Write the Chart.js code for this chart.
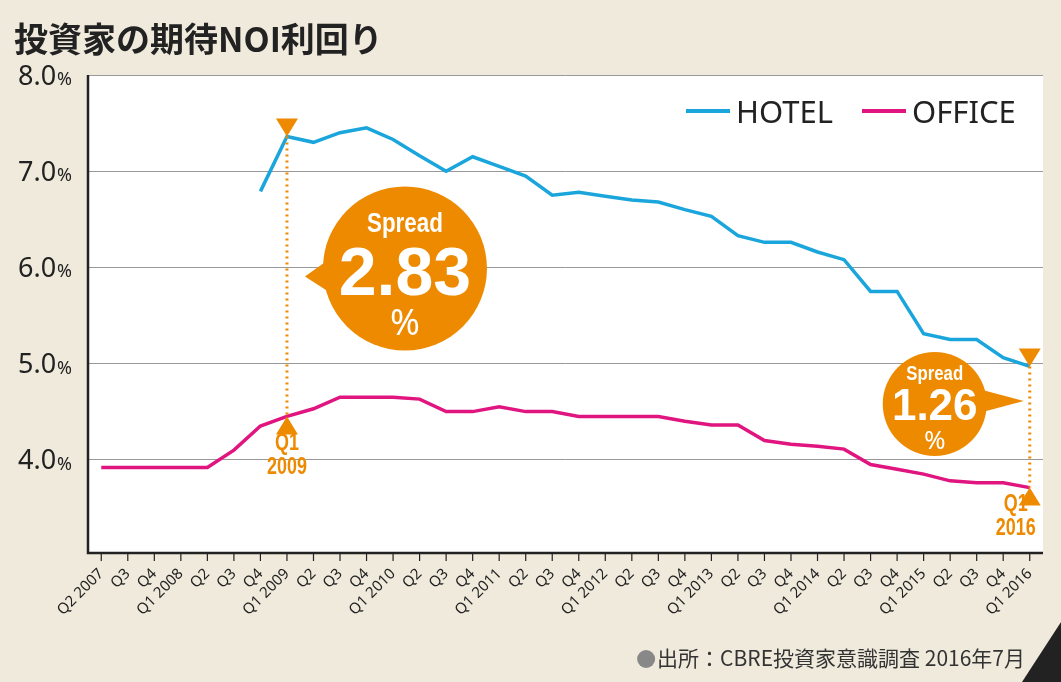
<!DOCTYPE html>
<html><head><meta charset="utf-8">
<script src="https://cdn.jsdelivr.net/npm/chart.js@4"></script>
<style>
html,body{margin:0;padding:0;background:#efeadc;}
#wrap{position:relative;width:1061px;height:682px;overflow:hidden;}
canvas{position:absolute;left:0;top:0;}
</style></head>
<body><div id="wrap"><canvas id="c" width="1061" height="682"></canvas></div>
<script>
// Datos
const categorias = ['Q2 2007','Q3','Q4','Q1 2008','Q2','Q3','Q4','Q1 2009','Q2','Q3','Q4','Q1 2010','Q2','Q3','Q4','Q1 2011','Q2','Q3','Q4','Q1 2012','Q2','Q3','Q4','Q1 2013','Q2','Q3','Q4','Q1 2014','Q2','Q3','Q4','Q1 2015','Q2','Q3','Q4','Q1 2016'];
const hotel = [null,null,null,null,null,null,6.79,7.36,7.30,7.40,7.45,7.33,7.16,7.00,7.15,7.05,6.95,6.75,6.78,6.74,6.70,6.68,6.60,6.53,6.33,6.26,6.26,6.16,6.08,5.75,5.75,5.31,5.25,5.25,5.06,4.97];
const office = [3.92,3.92,3.92,3.92,3.92,4.10,4.35,4.45,4.53,4.65,4.65,4.65,4.63,4.50,4.50,4.55,4.50,4.50,4.45,4.45,4.45,4.45,4.40,4.36,4.36,4.20,4.16,4.14,4.11,3.95,3.90,3.85,3.78,3.76,3.76,3.71];
const yTicks = [4, 5, 6, 7, 8];
const spreads = [{idx: 7, label: '2.83', q: 'Q1', year: '2009'}, {idx: 35, label: '1.26', q: 'Q1', year: '2016'}];

const NARANJA = '#ee8a00';
const AZUL = '#1aa6dc';
const ROSA = '#e0157f';

function textoEstrecho(ctx, t, x, y, sx) {
  ctx.save(); ctx.translate(x, y); ctx.scale(sx, 1); ctx.fillText(t, 0, 0); ctx.restore();
}

// Dibujo de fondo, títulos, leyenda y anotaciones
const decor = {
  id: 'decor',
  beforeDraw(chart) {
    const {ctx, chartArea: a} = chart;
    ctx.save();
    ctx.fillStyle = '#fff';
    ctx.fillRect(a.left, a.top, a.right - a.left, a.bottom - a.top);
    ctx.restore();
  },
  afterDatasetsDraw(chart) {
    const {ctx, chartArea: a, scales: {x, y}} = chart;
    ctx.save();
    // ejes
    ctx.strokeStyle = '#222'; ctx.lineWidth = 2.5;
    ctx.beginPath(); ctx.moveTo(a.left, a.top); ctx.lineTo(a.left, a.bottom); ctx.lineTo(a.right, a.bottom); ctx.stroke();
    ctx.lineWidth = 1.2;
    categorias.forEach((c, i) => {
      const px = x.getPixelForValue(i);
      ctx.beginPath(); ctx.moveTo(px, a.bottom); ctx.lineTo(px, a.bottom + 8); ctx.stroke();
    });
    // etiquetas Y
    ctx.fillStyle = '#222'; ctx.textBaseline = 'middle'; ctx.textAlign = 'left';
    yTicks.forEach(v => {
      const py = y.getPixelForValue(v);
      const t = v.toFixed(1);
      ctx.font = '27px "Noto Sans"';
      ctx.fillText(t, 18, py + 2);
      const w = ctx.measureText(t).width;
      ctx.font = '18px "Noto Sans"';
      ctx.fillText('%', 18 + w + 1, py + 5);
    });
    // título
    ctx.font = 'bold 34px "Noto Sans CJK JP"'; ctx.textBaseline = 'alphabetic';
    ctx.fillText('投資家の期待NOI利回り', 14, 52);
    // leyenda
    ctx.font = '31px "Noto Sans"'; ctx.lineWidth = 4;
    [[AZUL, 'HOTEL', 686], [ROSA, 'OFFICE', 862]].forEach(([col, txt, lx]) => {
      ctx.strokeStyle = col; ctx.beginPath(); ctx.moveTo(lx, 111); ctx.lineTo(lx + 44, 111); ctx.stroke();
      ctx.fillStyle = '#222'; ctx.fillText(txt, lx + 50, 123);
    });
    // fuente
    ctx.font = '21px "Noto Sans CJK JP"'; ctx.fillStyle = '#333'; ctx.textAlign = 'left';
    const fuente = '出所：CBRE投資家意識調査 2016年7月';
    const fw = ctx.measureText(fuente).width;
    ctx.fillText(fuente, 1025 - fw, 666);
    ctx.fillStyle = '#888'; ctx.beginPath(); ctx.arc(1025 - fw - 11, 659, 9, 0, Math.PI * 2); ctx.fill();
    ctx.fillStyle = '#222'; ctx.beginPath(); ctx.moveTo(1061, 622); ctx.lineTo(1061, 682); ctx.lineTo(1022, 682); ctx.closePath(); ctx.fill();
    // spreads
    spreads.forEach((s, k) => {
      const pxi = x.getPixelForValue(s.idx);
      const yt = y.getPixelForValue(hotel[s.idx]);
      const yb = y.getPixelForValue(office[s.idx]);
      ctx.strokeStyle = NARANJA; ctx.lineWidth = 3; ctx.setLineDash([2, 4]);
      ctx.beginPath(); ctx.moveTo(pxi, yt); ctx.lineTo(pxi, yb); ctx.stroke();
      ctx.setLineDash([]);
      ctx.fillStyle = NARANJA;
      ctx.beginPath(); ctx.moveTo(pxi - 11, yt - 18); ctx.lineTo(pxi + 11, yt - 18); ctx.lineTo(pxi, yt); ctx.closePath(); ctx.fill();
      ctx.beginPath(); ctx.moveTo(pxi - 11, yb + 18); ctx.lineTo(pxi + 11, yb + 18); ctx.lineTo(pxi, yb); ctx.closePath(); ctx.fill();
      const big = k === 0;
      const ymid = big ? (yt + yb) / 2 : (yt + yb) / 2 - 26;
      const r = big ? 82 : 52;
      const cx = big ? pxi + 118 : pxi - 95;
      const cy = big ? ymid - 8 : ymid + 3;
      ctx.beginPath(); ctx.arc(cx, cy, r, 0, Math.PI * 2); ctx.fill();
      ctx.beginPath();
      if (big) { ctx.moveTo(pxi + 18, ymid); ctx.lineTo(cx - r + 10, ymid - 20); ctx.lineTo(cx - r + 10, ymid + 18); }
      else { ctx.moveTo(pxi - 6, ymid); ctx.lineTo(cx + r - 8, ymid - 12); ctx.lineTo(cx + r - 8, ymid + 12); }
      ctx.closePath(); ctx.fill();
      ctx.fillStyle = '#fff'; ctx.textAlign = 'center'; ctx.textBaseline = 'middle';
      ctx.font = `bold ${big ? 28 : 21}px "Liberation Sans", sans-serif`;
      textoEstrecho(ctx, 'Spread', cx, cy - (big ? 44 : 30), 0.8);
      ctx.font = `bold ${big ? 68 : 44}px "Liberation Sans", sans-serif`;
      ctx.fillText(s.label, cx, cy + (big ? 8 : 4));
      ctx.font = `${big ? 36 : 26}px "Noto Sans"`;
      ctx.fillText('%', cx, cy + (big ? 56 : 38));
      ctx.fillStyle = NARANJA;
      ctx.font = 'bold 23px "Liberation Sans", sans-serif';
      const lx = big ? pxi : pxi - 14;
      const dy = big ? -6 : -16;
      textoEstrecho(ctx, s.q, lx, yb + 33 + dy, 0.78);
      textoEstrecho(ctx, s.year, lx, yb + 57 + dy, 0.78);
    });
    ctx.restore();
  }
};

new Chart(document.getElementById('c'), {
  type: 'line',
  data: {
    labels: categorias,
    datasets: [
      {label: 'HOTEL', data: hotel, borderColor: AZUL, borderWidth: 3.5, pointRadius: 0, tension: 0, spanGaps: false},
      {label: 'OFFICE', data: office, borderColor: ROSA, borderWidth: 3.5, pointRadius: 0, tension: 0}
    ]
  },
  options: {
    responsive: false, animation: false,
    layout: {padding: {top: 75, right: 18, left: 0, bottom: 0}},
    plugins: {legend: {display: false}, tooltip: {enabled: false}},
    scales: {
      x: {
        offset: true,
        grid: {display: false},
        border: {display: false},
        ticks: {color: '#222', font: {size: 15, family: 'Noto Sans'}, minRotation: 45, maxRotation: 45, autoSkip: false, padding: 4},
        afterFit: s => { s.height = 129; }
      },
      y: {
        min: 3.03, max: 8.0,
        afterBuildTicks: s => { s.ticks = yTicks.map(v => ({value: v})); },
        grid: {color: '#999', lineWidth: 1, drawTicks: false},
        border: {display: false},
        ticks: {display: false},
        afterFit: s => { s.width = 88; }
      }
    }
  },
  plugins: [decor]
});
</script></body></html>
